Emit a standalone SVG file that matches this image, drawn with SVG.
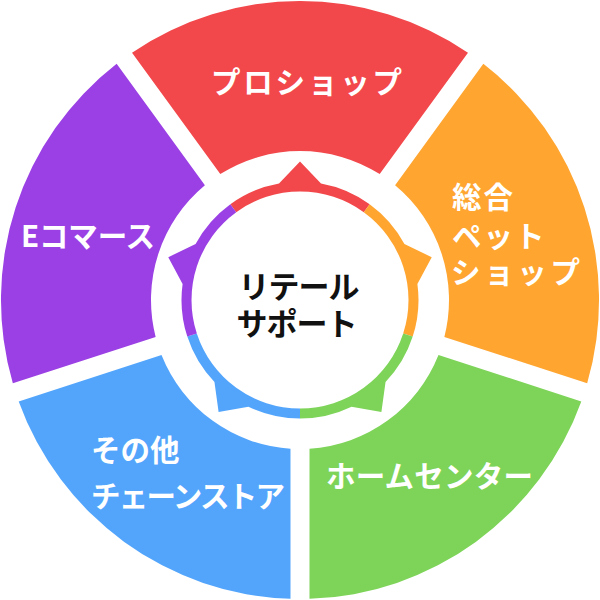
<svg xmlns="http://www.w3.org/2000/svg" xmlns:xlink="http://www.w3.org/1999/xlink" width="600" height="600" viewBox="0 0 600 600">
  <style>
    .lbl { font-family: "Noto Sans CJK JP", "Noto Sans", sans-serif; font-weight: bold; font-size: 29.5px; fill: #ffffff; dominant-baseline: central; }
    .ctr { font-family: "Noto Sans CJK JP", "Noto Sans", sans-serif; font-weight: bold; font-size: 31px; fill: #111111; dominant-baseline: central; text-anchor: middle; }
  </style>
  <defs>
    <path id="seg" d="M132.02,52.63 A299,299 0 0 1 467.98,52.63 L379.71,174.11 A149,149 0 0 0 220.29,174.11 Z"/>
    <path id="arc" d="M230.35,204.14 A118.5,118.5 0 0 1 279,183.38 L300,161.5 L321,183.38 A118.5,118.5 0 0 1 369.65,204.14 L363.78,212.23 A108.5,108.5 0 0 0 236.22,212.23 Z"/>
  </defs>
  <rect width="600" height="600" fill="#ffffff"/>
  <g id="connectors">
    <use xlink:href="#arc" fill="#F2484B"/>
    <use xlink:href="#arc" fill="#FFA530" transform="rotate(72 300 300)"/>
    <use xlink:href="#arc" fill="#7DD458" transform="rotate(144 300 300)"/>
    <use xlink:href="#arc" fill="#53A5FC" transform="rotate(216 300 300)"/>
    <use xlink:href="#arc" fill="#9A40E4" transform="rotate(288 300 300)"/>
  </g>
  <g id="node-pro">
    <use xlink:href="#seg" fill="#F2484B"/>
    <text class="lbl" x="211" y="80" textLength="191" lengthAdjust="spacing">プロショップ</text>
  </g>
  <g id="node-pet">
    <use xlink:href="#seg" fill="#FFA530" transform="rotate(72 300 300)"/>
    <text class="lbl" x="452" y="195" textLength="61" lengthAdjust="spacing">総合</text>
    <text class="lbl" x="452" y="234" letter-spacing="2">ペット</text>
    <text class="lbl" x="451" y="270" textLength="129" lengthAdjust="spacing">ショップ</text>
  </g>
  <g id="node-home">
    <use xlink:href="#seg" fill="#7DD458" transform="rotate(144 300 300)"/>
    <text class="lbl" x="326" y="474" textLength="207" lengthAdjust="spacing">ホームセンター</text>
  </g>
  <g id="node-other">
    <use xlink:href="#seg" fill="#53A5FC" transform="rotate(216 300 300)"/>
    <text class="lbl" x="91" y="448">その他</text>
    <text class="lbl" x="91" y="494" textLength="194" lengthAdjust="spacing">チェーンストア</text>
  </g>
  <g id="node-ec">
    <use xlink:href="#seg" fill="#9A40E4" transform="rotate(288 300 300)"/>
    <text class="lbl" x="21" y="233.5" textLength="134" lengthAdjust="spacing">Eコマース</text>
  </g>
  <g id="node-center">
    <text class="ctr" x="299" y="284" textLength="121" lengthAdjust="spacing">リテール</text>
    <text class="ctr" x="297" y="321" textLength="121" lengthAdjust="spacing">サポート</text>
  </g>
</svg>
